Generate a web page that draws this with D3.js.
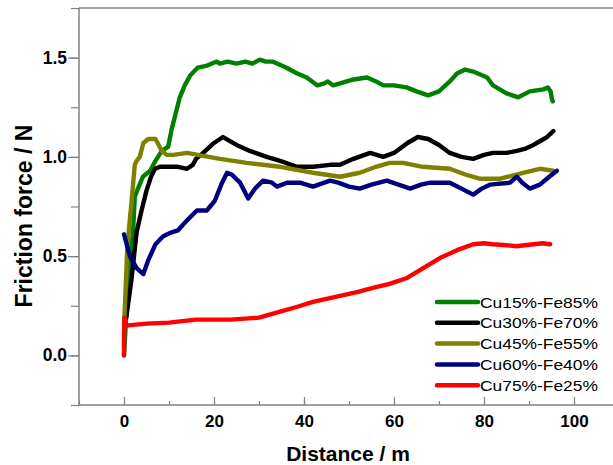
<!DOCTYPE html>
<html>
<head>
<meta charset="utf-8">
<script src="https://cdn.jsdelivr.net/npm/d3@7"></script>
<style>
  body { margin: 0; background: #fff; }
  svg { display: block; font-family: Arial, "Liberation Sans", sans-serif; }
</style>
</head>
<body>
<svg id="chart" width="613" height="465"></svg>
<script>
// legend names, in drawing order
const seriesNames = ['Cu15%-Fe85%', 'Cu30%-Fe70%', 'Cu45%-Fe55%', 'Cu60%-Fe40%', 'Cu75%-Fe25%'];
const seriesColors = ['#008000', '#000000', '#808000', '#000080', '#ff0000'];

// [distance m, friction N]
const cu15 = [[0, 0], [0.5, 0.2], [1.2, 0.45], [2, 0.62], [2.4, 0.8], [3.1, 0.84], [4.2, 0.9], [5.8, 0.93],
  [7, 0.98], [8.4, 1.03], [9.8, 1.05], [10.6, 1.14], [11.5, 1.22], [12.4, 1.3], [13.5, 1.36], [14.7, 1.41],
  [16.4, 1.45], [18.5, 1.46], [20.6, 1.48], [21.3, 1.47], [23, 1.48], [25, 1.47], [27, 1.48], [28.5, 1.47],
  [30.2, 1.49], [31.5, 1.48], [33, 1.48], [36, 1.45], [38.5, 1.42], [40.6, 1.4], [43, 1.36], [44.5, 1.37],
  [45.3, 1.38], [46.5, 1.36], [48, 1.37], [51, 1.39], [54, 1.4], [56, 1.38], [57.6, 1.36], [60, 1.36],
  [62.8, 1.35], [65, 1.33], [67.6, 1.31], [70, 1.33], [72.4, 1.38], [74, 1.42], [75.8, 1.44], [77.6, 1.43],
  [80.7, 1.4], [82, 1.36], [85, 1.32], [87.6, 1.3], [90.2, 1.33], [93.2, 1.34], [94.2, 1.35], [94.8, 1.33],
  [95.1, 1.29], [95.3, 1.28]];

const cu30 = [[0.5, 0.19], [1.7, 0.39], [2.8, 0.62], [4, 0.74], [5, 0.83], [6, 0.9], [6.9, 0.94], [8, 0.95],
  [9.5, 0.95], [12, 0.95], [14, 0.94], [15.3, 0.96], [16, 0.99], [17.6, 1.02], [20, 1.07], [22, 1.1],
  [25, 1.06], [28, 1.03], [31.7, 1.0], [34.7, 0.98], [38.4, 0.95], [42, 0.95], [45.8, 0.96], [48, 0.96],
  [51, 0.99], [54.7, 1.02], [57.6, 1.0], [60, 1.02], [63, 1.07], [65.3, 1.1], [67.6, 1.09], [70, 1.06],
  [72.4, 1.02], [75, 1.0], [77.6, 0.99], [80, 1.01], [82, 1.02], [85, 1.02], [87.3, 1.03], [89, 1.04],
  [91, 1.06], [92.5, 1.08], [94, 1.1], [95.4, 1.13]];

const cu45 = [[0, 0.15], [0.3, 0.3], [0.7, 0.53], [1.2, 0.66], [1.7, 0.78], [2.4, 0.96], [2.8, 0.98], [3.5, 1.0],
  [4.3, 1.07], [5.4, 1.09], [7, 1.09], [8.4, 1.03], [9.5, 1.01], [11, 1.01], [14, 1.02], [16.4, 1.01],
  [21.3, 0.99], [27.3, 0.97], [34.7, 0.95], [42, 0.92], [48, 0.9], [52.4, 0.92], [56, 0.95], [59, 0.97],
  [62, 0.97], [66.4, 0.95], [72.4, 0.94], [76, 0.91], [79, 0.89], [83.6, 0.89], [88.7, 0.92], [92.4, 0.94],
  [95.4, 0.93]];

const cu60 = [[0, 0.61], [1.3, 0.5], [2.8, 0.44], [4.3, 0.41], [5.4, 0.48], [7, 0.56], [8.7, 0.6], [10.6, 0.62],
  [12, 0.63], [14, 0.68], [16.2, 0.73], [18.4, 0.73], [19.5, 0.76], [20.2, 0.78], [21.8, 0.87], [22.9, 0.92],
  [24, 0.91], [25.8, 0.87], [27.6, 0.79], [29.1, 0.84], [30.9, 0.88], [32.9, 0.87], [34, 0.85], [36.2, 0.87],
  [39.1, 0.87], [42, 0.85], [45.8, 0.88], [47.6, 0.87], [50, 0.85], [52.4, 0.84], [55, 0.86], [58.4, 0.88],
  [61, 0.86], [63.6, 0.84], [66, 0.86], [68, 0.87], [72.4, 0.87], [75, 0.84], [77.6, 0.81], [79.5, 0.84],
  [81.3, 0.86], [85.8, 0.87], [87.3, 0.9], [88.5, 0.87], [90.2, 0.84], [92.4, 0.86], [94.5, 0.9], [96.2, 0.93]];

const cu75 = [[0, 0.0], [0, 0.1], [0.1, 0.19], [0.3, 0.15], [5, 0.16], [10, 0.165], [16, 0.18], [23.6, 0.18],
  [30, 0.19], [34.7, 0.22], [38.5, 0.245], [42, 0.27], [48, 0.3], [52, 0.32], [55.3, 0.34], [59, 0.36],
  [62.9, 0.39], [66.5, 0.44], [70.2, 0.49], [74, 0.53], [77.6, 0.56], [80, 0.565], [82, 0.56], [85, 0.555],
  [87.3, 0.55], [89, 0.555], [91, 0.56], [93, 0.565], [94.7, 0.56]];

const allSeries = [cu15, cu30, cu45, cu60, cu75];

const xTicks = [0, 20, 40, 60, 80, 100];
const yTicks = [0.0, 0.5, 1.0, 1.5];

const svg = d3.select('#chart');
const axisColor = '#808080';

const x = d3.scaleLinear().domain([-10, 110]).range([79, 619]);
const y = d3.scaleLinear().domain([-0.25, 1.75]).range([405, 8]);

// frame: top line (right side falls off the canvas)
svg.append('line')
    .attr('x1', 79).attr('x2', 619).attr('y1', 8).attr('y2', 8)
    .attr('stroke', axisColor).attr('stroke-width', 1.5);

// x axis, ticks pointing inward
const xAxis = svg.append('g').attr('transform', 'translate(0,405)');
xAxis.append('g')
    .call(d3.axisBottom(x).tickValues(d3.range(-10, 111, 10)).tickSize(-4).tickFormat(''))
    .call(g => g.select('.domain').remove())
    .call(g => g.selectAll('line').attr('stroke', axisColor).attr('stroke-width', 1.2));
xAxis.append('g')
    .call(d3.axisBottom(x).tickValues(xTicks).tickSize(-8).tickFormat(d3.format('d')))
    .call(g => g.select('.domain').attr('stroke', axisColor).attr('stroke-width', 1.5).attr('d', 'M79,0H619'))
    .call(g => g.selectAll('line').attr('stroke', axisColor).attr('stroke-width', 1.2))
    .call(g => g.selectAll('text').attr('y', 22).attr('dy', null)
      .attr('font-size', 17).attr('font-weight', 'bold').attr('fill', '#000').attr('font-family', 'Arial'));

// y axis, ticks pointing outward
const yAxis = svg.append('g').attr('transform', 'translate(79,0)');
yAxis.append('g')
    .call(d3.axisLeft(y).tickValues(d3.range(-0.25, 1.76, 0.25)).tickSize(8).tickFormat(''))
    .call(g => g.select('.domain').remove())
    .call(g => g.selectAll('line').attr('stroke', axisColor).attr('stroke-width', 1.2));
yAxis.append('g')
    .call(d3.axisLeft(y).tickValues(yTicks).tickSize(11).tickFormat(d3.format('.1f')))
    .call(g => g.select('.domain').attr('stroke', axisColor).attr('stroke-width', 1.5).attr('d', 'M0,8V405'))
    .call(g => g.selectAll('line').attr('stroke', axisColor).attr('stroke-width', 1.2))
    .call(g => g.selectAll('text').attr('x', -12)
      .attr('font-size', 17.5).attr('font-weight', 'bold').attr('fill', '#000').attr('font-family', 'Arial'));

// axis titles
svg.append('text')
    .attr('x', 348).attr('y', 461)
    .attr('text-anchor', 'middle')
    .attr('font-size', 21).attr('font-weight', 'bold')
    .text('Distance / m');

svg.append('text')
    .attr('transform', 'translate(32,216) rotate(-90)')
    .attr('text-anchor', 'middle')
    .attr('font-size', 23).attr('font-weight', 'bold')
    .text('Friction force / N');

// data lines
const line = d3.line().x(d => x(d[0])).y(d => y(d[1]));

svg.append('g').selectAll('path')
  .data(allSeries)
  .join('path')
    .attr('d', line)
    .attr('fill', 'none')
    .attr('stroke', (d, i) => seriesColors[i])
    .attr('stroke-width', 4.4)
    .attr('stroke-linejoin', 'round')
    .attr('stroke-linecap', 'round');

// legend
const legend = svg.append('g').attr('transform', 'translate(435,302)');
const rows = legend.selectAll('g')
  .data(seriesNames)
  .join('g')
    .attr('transform', (d, i) => `translate(0,${i * 20.8})`);
rows.append('line')
    .attr('x1', 2).attr('x2', 43).attr('y1', 0).attr('y2', 0)
    .attr('stroke', (d, i) => seriesColors[i])
    .attr('stroke-width', 4.5)
    .attr('stroke-linecap', 'round');
rows.append('text')
    .attr('transform', 'translate(45,5.5) scale(1.2,1)')
    .attr('font-size', 14.5)
    .text(d => d);
</script>
</body>
</html>
